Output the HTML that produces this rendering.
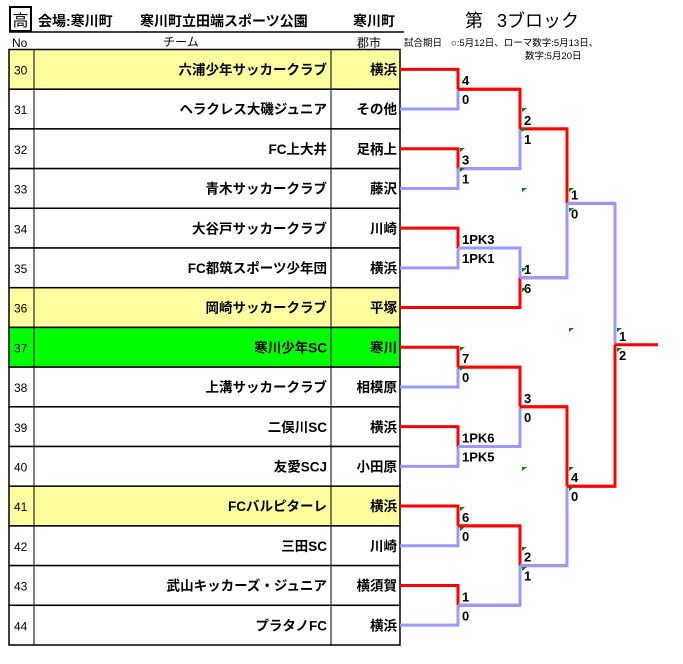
<!DOCTYPE html>
<html><head><meta charset="utf-8"><style>
body{margin:0;background:#fff;width:683px;height:664px;overflow:hidden;font-family:"Liberation Sans","Noto Sans CJK JP",sans-serif}
</style></head><body>
<svg width="683" height="664" xmlns="http://www.w3.org/2000/svg" style="position:absolute;left:0;top:0;font-family:'Liberation Sans','Noto Sans CJK JP',sans-serif">
<rect x="10" y="7" width="21" height="24" fill="none" stroke="#000" stroke-width="2"/>
<text x="20.5" y="26" font-size="16" text-anchor="middle">高</text>
<text x="38" y="26" font-size="14" font-weight="bold">会場:寒川町</text>
<text x="140" y="26" font-size="14" font-weight="bold">寒川町立田端スポーツ公園</text>
<text x="353" y="26" font-size="14" font-weight="bold">寒川町</text>
<line x1="9" y1="32" x2="404" y2="32" stroke="#000" stroke-width="1.5"/>
<text x="465" y="27" font-size="18">第</text>
<text x="497" y="27" font-size="18">3ブロック</text>
<text x="12" y="47" font-size="12">No</text>
<text x="181" y="46" font-size="12" text-anchor="middle">チーム</text>
<text x="369" y="47" font-size="12" text-anchor="middle">郡市</text>
<text x="404" y="46" font-size="9.5">試合期日</text>
<text x="451" y="46" font-size="9.5">○:5月12日、ローマ数字:5月13日、</text>
<text x="525" y="59" font-size="9.5">数字:5月20日</text>
<g id="rows"></g>
<g id="br" fill="none" stroke-width="3"></g>
<g id="lb" font-size="13" font-weight="bold"></g>
<g id="gm" fill="#008000"></g>
</svg>
<script>
var ns="http://www.w3.org/2000/svg";
function el(p,t,a,txt){var e=document.createElementNS(ns,t);for(var k in a)e.setAttribute(k,a[k]);if(txt)e.textContent=txt;document.getElementById(p).appendChild(e);return e;}
var teams=[["六浦少年サッカークラブ","横浜"],["ヘラクレス大磯ジュニア","その他"],["FC上大井","足柄上"],["青木サッカークラブ","藤沢"],["大谷戸サッカークラブ","川崎"],["FC都筑スポーツ少年団","横浜"],["岡崎サッカークラブ","平塚"],["寒川少年SC","寒川"],["上溝サッカークラブ","相模原"],["二俣川SC","横浜"],["友愛SCJ","小田原"],["FCバルピターレ","横浜"],["三田SC","川崎"],["武山キッカーズ・ジュニア","横須賀"],["プラタノFC","横浜"]];
var H=39.7,T=49.5;
for(var i=0;i<15;i++){var y=T+i*H;var f=(i==0||i==6||i==11)?"#ffffa0":(i==7?"#00ff00":"#fff");
el("rows","rect",{x:9,y:y,width:391,height:H,fill:f,stroke:"#000","stroke-width":1.5});
el("rows","line",{x1:34,y1:y,x2:34,y2:y+H,stroke:"#000","stroke-width":1});
el("rows","line",{x1:331,y1:y,x2:331,y2:y+H,stroke:"#000","stroke-width":1});
el("rows","text",{x:14,y:y+25,"font-size":12},String(30+i));
el("rows","text",{x:327,y:y+25,"font-size":13.5,"font-weight":"bold","text-anchor":"end"},teams[i][0]);
el("rows","text",{x:397,y:y+25,"font-size":13.5,"font-weight":"bold","text-anchor":"end"},teams[i][1]);}
function cy(i){return T+H/2+i*H;}
var R="#ff0000",B="#9999ff";
function mark(x,y){el("gm","polygon",{points:(x)+","+(y)+" "+(x+5)+","+(y)+" "+(x)+","+(y+4)});}
function match(x0a,ya,x0b,yb,x,topWin,x2){var m=(ya+yb)/2;
var ca=topWin?R:B,cb=topWin?B:R;
el("br","polyline",{points:x0a+","+ya+" "+x+","+ya+" "+x+","+m,stroke:ca});
el("br","polyline",{points:x0b+","+yb+" "+x+","+yb+" "+x+","+m,stroke:cb});
el("br","line",{x1:x,y1:m,x2:x2,y2:m,stroke:R});return m;}
function lab(x,m,a,b){el("lb","text",{x:x+4,y:m-4},a);el("lb","text",{x:x+4,y:m+15},b);}
var X1=458,X2=520,X3=567,X4=615;
var a=match(400,cy(0),400,cy(1),X1,1,X2);lab(X1,a,"4","0");
var b=match(400,cy(2),400,cy(3),X1,1,X2);lab(X1,b,"3","1");
var c=match(400,cy(4),400,cy(5),X1,1,X2);lab(X1,c,"1PK3","1PK1");
var ab=match(X1,a,X1,b,X2,1,X3);lab(X2,ab,"2","1");
var c6=match(X1,c,400,cy(6),X2,0,X3);lab(X2,c6,"1","6");
var d=match(400,cy(7),400,cy(8),X1,1,X2);lab(X1,d,"7","0");
var e=match(400,cy(9),400,cy(10),X1,1,X2);lab(X1,e,"1PK6","1PK5");
var f=match(400,cy(11),400,cy(12),X1,1,X2);lab(X1,f,"6","0");
var g=match(400,cy(13),400,cy(14),X1,1,X2);lab(X1,g,"1","0");
var de=match(X1,d,X1,e,X2,1,X3);lab(X2,de,"3","0");
var fg=match(X1,f,X1,g,X2,1,X3);lab(X2,fg,"2","1");
var upper=match(X2,ab,X2,c6,X3,1,X4);lab(X3,upper,"1","0");
var lower=match(X2,de,X2,fg,X3,1,X4);lab(X3,lower,"4","0");
var fin=match(X3,upper,X3,lower,X4,0,658);lab(X4,fin,"1","2");
[[460,148],[460,168],[522,108],[522,128],[522,188],[522,268],[522,288],[569,188],[569,208],[569,328],[617,328],[617,348],[460,347],[460,367],[522,467],[569,467],[569,487],[460,507],[460,527],[522,547],[522,567]].forEach(function(p){mark(p[0],p[1]);});
</script>
</body></html>
